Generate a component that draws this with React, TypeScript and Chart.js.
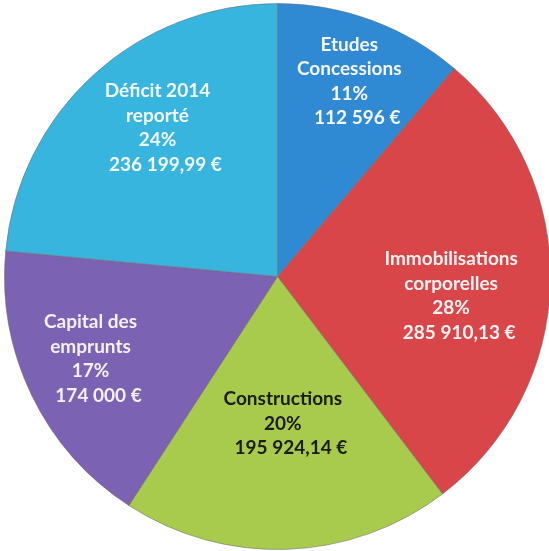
import React, { useEffect, useRef } from "react";
import { Chart, registerables } from "chart.js";

Chart.register(...registerables);

const categories = [
  ["Etudes", "Concessions"],
  ["Immobilisations", "corporelles"],
  ["Constructions"],
  ["Capital des", "emprunts"],
  ["Déficit 2014", "reporté"],
];
const values = [112596, 285910.13, 195924.14, 174000, 236199.99];
const percentLabels = ["11%", "28%", "20%", "17%", "24%"];
const amountLabels = ["112 596 €", "285 910,13 €", "195 924,14 €", "174 000 €", "236 199,99 €"];

const colors = ["#2F89D3", "#D9464A", "#A8CB4D", "#7C62B2", "#37B5DF"];
const textColors = ["#F5F5F5", "#F7F2F2", "#1C1C1C", "#F3F0F6", "#F3F8FB"];
// radial fraction and angular nudge (deg) for each label block
const labelFrac = [0.762, 0.64, 0.539, 0.748, 0.7];
const labelTurn = [0, 4.8, 0, 2.1, 3.4];

const labelPlugin = {
  id: "sliceLabels",
  afterDatasetsDraw(chart: any) {
    const ctx = chart.ctx;
    const meta = chart.getDatasetMeta(0);
    ctx.save();
    ctx.font = "bold 19px Lato";
    ctx.textAlign = "center";
    ctx.textBaseline = "middle";
    const lh = 24.5;
    meta.data.forEach((arc: any, i: number) => {
      const p = arc.getProps(["x", "y", "startAngle", "endAngle", "outerRadius"], true);
      const a = (p.startAngle + p.endAngle) / 2 + (labelTurn[i] * Math.PI) / 180;
      const r = p.outerRadius * labelFrac[i];
      const cx = p.x + Math.cos(a) * r;
      const cy = p.y + Math.sin(a) * r;
      const lines = [...categories[i], percentLabels[i], amountLabels[i]];
      const top = cy - ((lines.length - 1) * lh) / 2;
      ctx.fillStyle = textColors[i];
      lines.forEach((t, j) => {
        const dx = j === lines.length - 1 ? 8 : 0;
        ctx.fillText(t, cx + dx, top + j * lh);
      });
    });
    ctx.restore();
  },
};

export default function App() {
  const ref = useRef<HTMLCanvasElement | null>(null);
  useEffect(() => {
    if (!ref.current) return;
    const chart = new Chart(ref.current, {
      type: "pie",
      data: {
        labels: categories.map((c) => c.join(" ")),
        datasets: [
          {
            data: values,
            backgroundColor: colors,
            borderColor: "rgba(110,110,110,0.55)",
            borderWidth: 1,
          },
        ],
      },
      options: {
        responsive: false,
        animation: false,
        layout: { padding: 0 },
        plugins: {
          legend: { display: false },
          tooltip: { enabled: false },
        },
      },
      plugins: [labelPlugin],
    });
    return () => chart.destroy();
  }, []);
  return (
    <div
      style={{
        position: "fixed",
        left: 0,
        top: 0,
        width: 549,
        height: 551,
        overflow: "hidden",
        background: "#ffffff",
      }}
    >
      <canvas
        ref={ref}
        width={547}
        height={547}
        style={{ position: "absolute", left: 4, top: 3, width: 547, height: 547 }}
      />
    </div>
  );
}
